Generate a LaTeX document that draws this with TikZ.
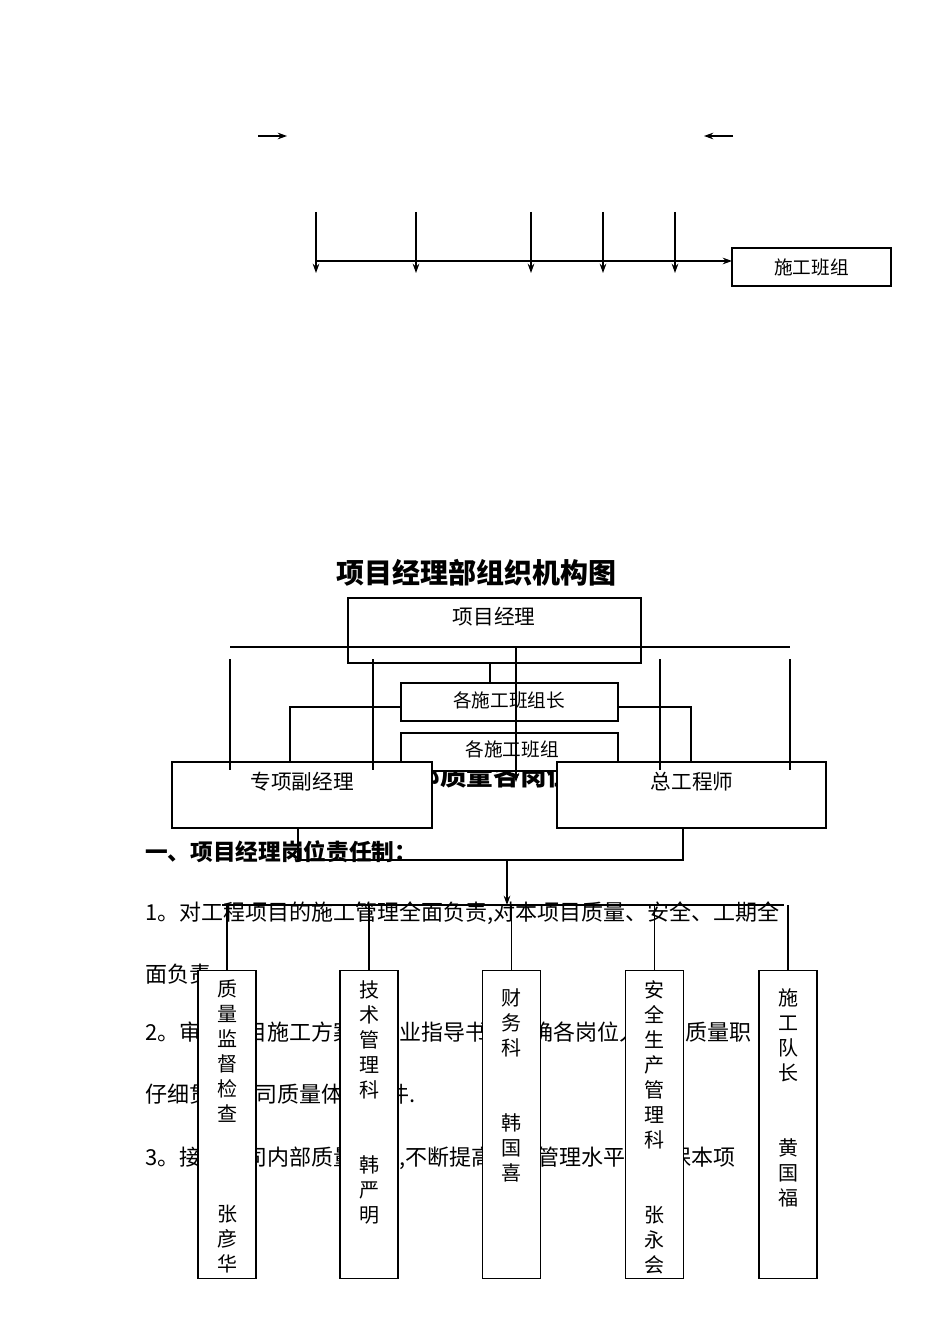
\documentclass[tikz,border=0pt]{standalone}
\usepackage{fontspec}
\setmainfont{Noto Sans CJK SC}
\usetikzlibrary{fit,arrows.meta}
\begin{document}
\begin{tikzpicture}[x=0.75pt,y=-0.75pt,
  box/.style={draw,fill=white,inner sep=0pt,line width=0.8pt},
  ln/.style={line width=0.8pt},
  arr/.style={ln,-{Stealth[length=7pt,width=5pt]}},
  lbl/.style={font=\fontsize{15.5}{18}\selectfont},
  body/.style={anchor=base west,inner sep=0pt,font=\fontsize{16.5}{18}\selectfont},
  vt/.style={anchor=north,inner sep=0pt,align=center,font=\fontsize{15}{18.75}\selectfont}]
\useasboundingbox (0,0) rectangle (950,1344);
% top fragment
\draw[arr] (258,136) -- (287,136);
\draw[arr] (733,136) -- (704,136);
\node[box,fit={(732,248)(891,286)}] (tg) {};
\node[lbl,font=\fontsize{14}{16}\selectfont] (tgt) at (tg.center) {施工班组};
\foreach \x in {316,416,531,603,675}{\draw[arr] (\x,212) -- (\x,273);}
\coordinate (tgin) at (732,261);
\draw[arr] (316,261) -- (tgin);
% title and background text
\node[font=\bfseries\fontsize{21}{24}\selectfont] (title) at (476,573) {项目经理部组织机构图};
\node[font=\bfseries\fontsize{20}{24}\selectfont] (h2) at (480,775) {项目经理部质量各岗位责任制};
\node[body,font=\bfseries\fontsize{17}{20}\selectfont] (h1) at (145,860) {一、项目经理岗位责任制：};
\node[body] (p1) at (145,920) {1。对工程项目的施工管理全面负责,对本项目质量、安全、工期全};
\node[body] (p2) at (145,982) {面负责.};
\node[body] (p3) at (145,1040) {2。审核项目施工方案、作业指导书，明确各岗位人员的质量职};
\node[body] (p4) at (145,1102) {仔细贯彻公司质量体系文件.};
\node[body] (p5) at (145,1165) {3。接受公司内部质量审核,不断提高质量管理水平，确保本项};
% boxes
\node[box,fit={(348,598)(641,663)},fill=none] (pm) {};
\node[lbl] (pmt) at (494,617) {项目经理};
\node[box,fit={(401,683)(618,721)}] (ld) {};
\node[lbl,font=\fontsize{14}{16}\selectfont] (ldt) at (509,700) {各施工班组长};
\node[box,fit={(401,733)(618,771)}] (gp) {};
\node[lbl,font=\fontsize{14}{16}\selectfont] (gpt) at (512,749) {各施工班组};
\node[box,fit={(172,762)(432,828)}] (dm) {};
\node[lbl] (dmt) at (302,782) {专项副经理};
\node[box,fit={(557,762)(826,828)}] (ce) {};
\node[lbl] (cet) at (692,782) {总工程师};
% lines
\draw[ln] (230,647) -- (790,647);
\foreach \x in {230,373,660,790}{\draw[ln] (\x,659) -- (\x,770);}
\draw[ln] (490,663) -- (490,683);
\draw[arr] (516,647) -- (516,782);
\draw[ln] (ld.west |- 0,707) -| (290,762);
\draw[ln] (ld.east |- 0,707) -| (691,762);
\draw[ln] (298,828) -- (298,860) -- (683,860) -- (683,828);
\draw[arr] (507,860) -- (507,905);
\draw[ln] (222,905) -- (784,905);
% vertical boxes
\foreach \n/\x/\t in {
 b1/227/{质\\量\\监\\督\\检\\查\\~\\~\\~\\张\\彦\\华},
 b2/369/{技\\术\\管\\理\\科\\~\\~\\韩\\严\\明},
 b3/511.5/{~\\财\\务\\科\\~\\~\\韩\\国\\喜},
 b4/654.5/{安\\全\\生\\产\\管\\理\\科\\~\\~\\张\\永\\会},
 b5/788/{~\\施\\工\\队\\长\\~\\~\\黄\\国\\福}}{
 \node[box,minimum width=43.5pt,minimum height=231pt,anchor=north] (\n) at (\x,970) {};
 \draw[ln] (\x,905) -- (\n.north);
 \node[vt] (\n t) at (\x,980) {\t};
}
\end{tikzpicture}
\end{document}
